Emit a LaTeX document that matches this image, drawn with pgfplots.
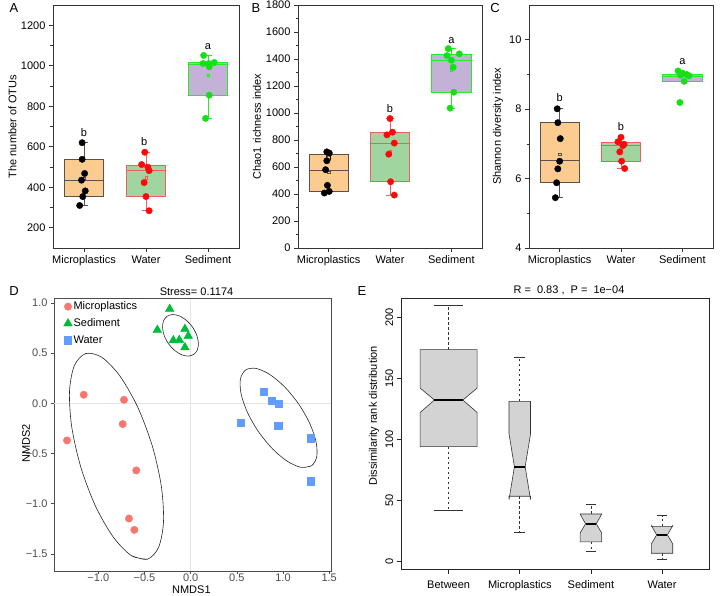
\documentclass[border=0pt]{standalone}
\usepackage{fontspec}
\setmainfont{Liberation Sans}
\usepackage{pgfplots}
\pgfplotsset{compat=1.18}
\definecolor{bor}{RGB}{252,203,143}
\definecolor{bgr}{RGB}{160,213,160}
\definecolor{bpu}{RGB}{195,177,216}
\definecolor{emic}{RGB}{90,82,72}
\definecolor{ewat}{RGB}{238,95,95}
\definecolor{esed}{RGB}{40,235,40}
\definecolor{cpwat}{RGB}{250,10,10}
\definecolor{cpsed}{RGB}{20,225,20}
\definecolor{gmic}{HTML}{F8766D}
\definecolor{gsed}{HTML}{00BA38}
\definecolor{gwat}{HTML}{619CFF}
\newcommand{\fs}{\fontsize{11}{13}\selectfont}
\pgfplotsset{
  orig/.style={scale only axis, anchor=south west, clip=false,
    xmin=0.5, xmax=3.5, xtick={1,2,3}, xticklabels={Microplastics,Water,Sediment},
    axis line style={black!80, line width=0.8pt},
    tick style={black!80, line width=0.7pt},
    tick align=outside, xtick pos=bottom, ytick pos=left,
    major tick length=4pt, minor tick length=2.5pt,
    font=\fs, tick label style={font=\fs},
    /pgf/number format/assume math mode=true,
    /pgf/number format/1000 sep={},
  },
  spmic/.style={only marks, mark=*, mark size=3.2pt, black},
  spwat/.style={only marks, mark=*, mark size=3.2pt, cpwat},
  spsed/.style={only marks, mark=*, mark size=3.2pt, cpsed},
  bmic/.style={draw=emic, fill=bor, line width=0.8pt},
  bwat/.style={draw=ewat, fill=bgr, line width=0.8pt},
  bsed/.style={draw=esed, fill=bpu, line width=0.8pt},
  lmic/.style={emic, line width=0.8pt},
  lwat/.style={ewat, line width=0.8pt},
  lsed/.style={esed, line width=0.8pt},
  mn/.style={only marks, mark=square, mark size=1.3pt, line width=0.4pt},
  rbox/.style={fill={rgb,255:red,211;green,211;blue,211}, draw=black!80, line width=0.6pt},
  rmed/.style={black, line width=2pt},
  rwhisk/.style={black!80, line width=0.6pt, dash pattern=on 2.5pt off 2.5pt},
  rcap/.style={black!80, line width=0.6pt},
  ell/.style={black!85, line width=0.6pt, smooth, forget plot},
}
\begin{document}
\begin{tikzpicture}
\useasboundingbox (0,0) rectangle (720pt,595pt);

% ---------------- A ----------------
\begin{axis}[orig, at={(53pt,347pt)}, width=186pt, height=243pt,
  ymin=100, ymax=1300, ytick={200,400,...,1200}, minor y tick num=1,
  ylabel={The number of OTUs},
  every axis y label/.style={at={(axis description cs:-0.2177,0.5)}, rotate=90, anchor=center, font=\fs}]
\addplot[lmic] coordinates {(1,538)(1,620)};
\addplot[lmic] coordinates {(1,354)(1,310)};
\addplot[lmic] coordinates {(0.94,620)(1.06,620)};
\addplot[lmic] coordinates {(0.94,310)(1.06,310)};
\addplot[bmic] coordinates {(0.68,354)(1.32,354)(1.32,538)(0.68,538)} -- cycle;
\addplot[lmic] coordinates {(0.68,436)(1.32,436)};
\addplot[lwat] coordinates {(2,509)(2,573)};
\addplot[lwat] coordinates {(2,354)(2,284)};
\addplot[lwat] coordinates {(1.94,573)(2.06,573)};
\addplot[lwat] coordinates {(1.94,284)(2.06,284)};
\addplot[bwat] coordinates {(1.68,354)(2.32,354)(2.32,509)(1.68,509)} -- cycle;
\addplot[lwat] coordinates {(1.68,482)(2.32,482)};
\addplot[lsed] coordinates {(3,1016)(3,1051)};
\addplot[lsed] coordinates {(3,854)(3,740)};
\addplot[lsed] coordinates {(2.94,1051)(3.06,1051)};
\addplot[lsed] coordinates {(2.94,740)(3.06,740)};
\addplot[bsed] coordinates {(2.68,854)(3.32,854)(3.32,1016)(2.68,1016)} -- cycle;
\addplot[lsed] coordinates {(2.68,1005)(3.32,1005)};
\addplot[mn, emic] coordinates {(1,443.9)};
\addplot[mn, ewat] coordinates {(2,446.7)};
\addplot[mn, esed] coordinates {(3,954)};
\addplot[spmic] coordinates {(0.97,620)(0.97,538)(1.01,468)(0.96,435)(1.02,382)(0.98,354)(0.93,310)};
\addplot[spwat] coordinates {(1.98,573)(1.93,512)(2.03,499)(2.05,482)(1.97,423)(2.00,354)(2.05,284)};
\addplot[spsed] coordinates {(2.93,1051)(2.92,1011)(3.01,1011)(3.10,1016)(3.02,995)(3.02,855)(2.96,740)};
\node[font=\fs] at (axis cs:1,670) {b};
\node[font=\fs] at (axis cs:1.97,625) {b};
\node[font=\fs] at (axis cs:3,1093) {a};
\end{axis}

% ---------------- B ----------------
\begin{axis}[orig, at={(298pt,347pt)}, width=184pt, height=243pt,
  ymin=0, ymax=1800, ytick={0,200,...,1800}, minor y tick num=1,
  ylabel={Chao1 richness index},
  every axis y label/.style={at={(axis description cs:-0.2228,0.5)}, rotate=90, anchor=center, font=\fs}]
\addplot[lmic] coordinates {(1,696)(1,712)};
\addplot[lmic] coordinates {(1,417)(1,407)};
\addplot[bmic] coordinates {(0.68,417)(1.32,417)(1.32,696)(0.68,696)} -- cycle;
\addplot[lmic] coordinates {(0.68,578)(1.32,578)};
\addplot[lwat] coordinates {(2,858)(2,959)};
\addplot[lwat] coordinates {(2,491)(2,392)};
\addplot[lwat] coordinates {(1.94,959)(2.06,959)};
\addplot[lwat] coordinates {(1.94,392)(2.06,392)};
\addplot[bwat] coordinates {(1.68,491)(2.32,491)(2.32,858)(1.68,858)} -- cycle;
\addplot[lwat] coordinates {(1.68,777)(2.32,777)};
\addplot[lsed] coordinates {(3,1435)(3,1477)};
\addplot[lsed] coordinates {(3,1154)(3,1036)};
\addplot[lsed] coordinates {(2.92,1477)(3.08,1477)};
\addplot[lsed] coordinates {(2.94,1036)(3.06,1036)};
\addplot[bsed] coordinates {(2.68,1154)(3.32,1154)(3.32,1435)(2.68,1435)} -- cycle;
\addplot[lsed] coordinates {(2.68,1391)(3.32,1391)};
\addplot[mn, emic] coordinates {(1,561.6)};
\addplot[mn, ewat] coordinates {(2,715.7)};
\addplot[mn, esed] coordinates {(3,1322.9)};
\addplot[spmic] coordinates {(0.97,712)(1.01,703)(0.97,646)(0.95,580)(0.98,464)(1.01,419)(0.93,407)};
\addplot[spwat] coordinates {(2.00,959)(2.04,858)(1.95,838)(2.07,777)(1.98,695)(2.01,491)(2.07,392)};
\addplot[spsed] coordinates {(2.95,1477)(2.93,1425)(3.13,1438)(3.00,1391)(3.03,1339)(3.04,1154)(2.98,1036)};
\node[font=\fs] at (axis cs:1,673) {b};
\node[font=\fs] at (axis cs:2,1036) {b};
\node[font=\fs] at (axis cs:3,1534) {a};
\end{axis}

% ---------------- C ----------------
\begin{axis}[orig, at={(529pt,347pt)}, width=184pt, height=243pt,
  ymin=4, ymax=11, ytick={4,6,8,10}, minor y tick num=1,
  ylabel={Shannon diversity index},
  every axis y label/.style={at={(axis description cs:-0.1685,0.5)}, rotate=90, anchor=center, font=\fs}]
\addplot[lmic] coordinates {(1,7.62)(1,8.02)};
\addplot[lmic] coordinates {(1,5.89)(1,5.45)};
\addplot[lmic] coordinates {(0.94,8.02)(1.06,8.02)};
\addplot[lmic] coordinates {(0.94,5.45)(1.06,5.45)};
\addplot[bmic] coordinates {(0.68,5.89)(1.32,5.89)(1.32,7.62)(0.68,7.62)} -- cycle;
\addplot[lmic] coordinates {(0.68,6.51)(1.32,6.51)};
\addplot[lwat] coordinates {(2,7.03)(2,7.19)};
\addplot[lwat] coordinates {(2,6.50)(2,6.29)};
\addplot[lwat] coordinates {(1.94,6.29)(2.06,6.29)};
\addplot[bwat] coordinates {(1.68,6.50)(2.32,6.50)(2.32,7.03)(1.68,7.03)} -- cycle;
\addplot[lwat] coordinates {(1.68,6.95)(2.32,6.95)};
\addplot[lsed] coordinates {(3,9.01)(3,9.10)};
\addplot[bsed] coordinates {(2.68,8.80)(3.32,8.80)(3.32,9.01)(2.68,9.01)} -- cycle;
\addplot[lsed] coordinates {(2.68,8.94)(3.32,8.94)};
\addplot[mn, emic] coordinates {(1,6.70)};
\addplot[mn, ewat] coordinates {(2,6.82)};
\addplot[spmic] coordinates {(0.96,8.01)(0.97,7.61)(1.01,7.15)(1.00,6.50)(0.97,6.28)(0.95,5.88)(0.93,5.45)};
\addplot[spwat] coordinates {(2.00,7.19)(1.95,7.06)(2.05,6.99)(2.03,6.95)(1.98,6.77)(2.01,6.50)(2.06,6.29)};
\addplot[spsed] coordinates {(2.93,9.10)(3.00,9.04)(3.07,9.00)(3.11,8.96)(3.03,8.80)(2.96,8.19)(2.97,8.98)};
\node[font=\fs] at (axis cs:1,8.32) {b};
\node[font=\fs] at (axis cs:2,7.51) {b};
\node[font=\fs] at (axis cs:3,9.37) {a};
\end{axis}

% ---------------- D ----------------
\begin{axis}[scale only axis, anchor=south west, at={(54pt,24pt)}, width=277pt, height=272pt,
  xmin=-1.48, xmax=1.52, ymin=-1.67, ymax=1.04,
  xtick={-1,-0.5,0,0.5,1,1.5}, xticklabels={−1.0,−0.5,0.0,0.5,1.0,1.5},
  ytick={-1.5,-1,-0.5,0,0.5,1}, yticklabels={−1.5,−1.0,−0.5,0.0,0.5,1.0},
  axis line style={black!70, line width=1pt},
  tick style={black!70, line width=0.6pt},
  tick align=outside, xtick pos=bottom, ytick pos=left, major tick length=3pt,
  font=\fs, tick label style={font=\fs, text=black!70},
  xticklabel style={yshift=1pt, inner sep=0.5pt},
  xlabel={NMDS1}, ylabel={NMDS2},
  every axis x label/.style={at={(axis description cs:0.496,-0.0695)}, anchor=center, inner sep=0pt, font=\fs},
  every axis y label/.style={at={(axis description cs:-0.101,0.47)}, rotate=90, anchor=center, font=\fs},
  legend style={at={(axis description cs:0,1)}, anchor=north west, xshift=8.5pt, yshift=-0.5pt,
     draw=none, fill=none, font=\fs, row sep=5pt, inner sep=1pt,
     nodes={inner sep=1.2pt}},
  legend cell align=left,
  legend image code/.code={\draw[#1] plot coordinates {(0pt,0pt)};},
]
\addplot[black!10, line width=0.9pt, forget plot] coordinates {(0,-1.67)(0,1.04)};
\addplot[black!10, line width=0.9pt, forget plot] coordinates {(-1.48,0)(1.52,0)};
% confidence ellipses
\addplot[ell] coordinates {(-0.4697,-1.5533)(-0.6431,-1.5162)(-0.8407,-1.3284)(-1.0326,-1.0196)(-1.1897,-0.6352)(-1.2880,-0.2346)(-1.3121,0.1206)(-1.2591,0.3777)(-1.1364,0.4964)(-0.9630,0.4594)(-0.7654,0.2716)(-0.5735,-0.0372)(-0.4163,-0.4216)(-0.3181,-0.8222)(-0.2939,-1.1775)(-0.3470,-1.4345)(-0.4697,-1.5533)(-0.6431,-1.5162)};
\addplot[ell] coordinates {(0.0354,0.4884)(-0.0250,0.4706)(-0.0985,0.4845)(-0.1736,0.5276)(-0.2393,0.5938)(-0.2853,0.6728)(-0.3045,0.7525)(-0.2945,0.8209)(-0.2562,0.8675)(-0.1958,0.8853)(-0.1223,0.8715)(-0.0472,0.8283)(0.0185,0.7621)(0.0645,0.6832)(0.0838,0.6035)(0.0737,0.5350)(0.0354,0.4884)(-0.0250,0.4706)};
\addplot[ell] coordinates {(1.3095,-0.6213)(1.1991,-0.6381)(1.0512,-0.5794)(0.8884,-0.4548)(0.7351,-0.2828)(0.6148,-0.0897)(0.5462,0.0948)(0.5392,0.2431)(0.5952,0.3322)(0.7056,0.3490)(0.8536,0.2902)(1.0163,0.1657)(1.1697,-0.0064)(1.2899,-0.1994)(1.3586,-0.3840)(1.3656,-0.5322)(1.3095,-0.6213)(1.1991,-0.6381)};
\addplot[only marks, mark=*, mark size=3.7pt, gmic] coordinates {(-1.158,0.086)(-0.722,0.036)(-0.736,-0.206)(-1.339,-0.369)(-0.589,-0.668)(-0.668,-1.147)(-0.610,-1.260)};
\addlegendentry{Microplastics}
\addplot[only marks, mark=triangle*, mark size=5pt, gsed] coordinates {(-0.227,0.94)(-0.361,0.731)(-0.062,0.741)(-0.188,0.628)(-0.123,0.631)(-0.026,0.671)(-0.062,0.558)};
\addlegendentry{Sediment}
\addplot[only marks, mark=square*, mark size=3.6pt, gwat] coordinates {(0.793,0.116)(0.877,0.030)(0.956,-0.003)(0.948,-0.223)(1.302,-0.346)(0.544,-0.193)(1.299,-0.775)};
\addlegendentry{Water}
\end{axis}

% ---------------- E ----------------
\begin{axis}[scale only axis, anchor=south west, at={(401.7pt,26pt)}, width=307.3pt, height=271pt,
  xmin=0.34, xmax=4.66, ymin=-6.6, ymax=216,
  xtick={1,2,3,4}, xticklabels={Between,Microplastics,Sediment,Water},
  ytick={0,50,100,150,200},
  yticklabel style={rotate=90, anchor=south},
  xticklabel style={yshift=-3pt},
  axis line style={black!85, line width=0.8pt},
  tick style={black!85, line width=0.6pt},
  tick align=outside, xtick pos=bottom, ytick pos=left, major tick length=5pt,
  font=\fs, tick label style={font=\fs},
  /pgf/number format/assume math mode=true,
  ylabel={Dissimilarity rank distribution},
  every axis y label/.style={at={(axis description cs:-0.090,0.565)}, rotate=90, anchor=center, font=\fs},
]
\addplot[rwhisk] coordinates {(1,173.6)(1,210)};
\addplot[rwhisk] coordinates {(1,93.9)(1,41.6)};
\addplot[rcap] coordinates {(0.8,210)(1.2,210)};
\addplot[rcap] coordinates {(0.8,41.6)(1.2,41.6)};
\addplot[rwhisk] coordinates {(2,131.1)(2,166.9)};
\addplot[rwhisk] coordinates {(2,53.2)(2,23.3)};
\addplot[rcap] coordinates {(1.925,166.9)(2.075,166.9)};
\addplot[rcap] coordinates {(1.925,23.3)(2.075,23.3)};
\addplot[rwhisk] coordinates {(3,38.6)(3,46.6)};
\addplot[rwhisk] coordinates {(3,15.7)(3,7.7)};
\addplot[rcap] coordinates {(2.925,46.6)(3.075,46.6)};
\addplot[rcap] coordinates {(2.925,7.7)(3.075,7.7)};
\addplot[rwhisk] coordinates {(4,28.4)(4,37.2)};
\addplot[rwhisk] coordinates {(4,6.3)(4,1.7)};
\addplot[rcap] coordinates {(3.925,37.2)(4.075,37.2)};
\addplot[rcap] coordinates {(3.925,1.7)(4.075,1.7)};
\addplot[rbox] coordinates {(0.6,93.9)(1.4,93.9)(1.4,122)(1.2,132.2)(1.4,142)(1.4,173.6)(0.6,173.6)(0.6,142)(0.8,132.2)(0.6,122)} -- cycle;
\addplot[rbox] coordinates {(1.849,53.2)(2.151,53.2)(2.151,50.5)(2.0755,77.4)(2.151,104.3)(2.151,131.1)(1.849,131.1)(1.849,104.3)(1.9245,77.4)(1.849,50.5)} -- cycle;
\addplot[rbox] coordinates {(2.849,15.7)(3.151,15.7)(3.151,23.0)(3.0755,30.6)(3.151,38.4)(3.151,38.6)(2.849,38.6)(2.849,38.4)(2.9245,30.6)(2.849,23.0)} -- cycle;
\addplot[rbox] coordinates {(3.849,6.3)(4.151,6.3)(4.151,13.9)(4.0755,21.5)(4.151,29.1)(4.151,28.4)(3.849,28.4)(3.849,29.1)(3.9245,21.5)(3.849,13.9)} -- cycle;
\addplot[rmed] coordinates {(0.8,132.2)(1.2,132.2)};
\addplot[rmed] coordinates {(1.9245,77.4)(2.0755,77.4)};
\addplot[rmed] coordinates {(2.9245,30.6)(3.0755,30.6)};
\addplot[rmed] coordinates {(3.9245,21.5)(4.0755,21.5)};
\end{axis}

% ---------------- labels ----------------
\node[font=\fontsize{13}{15}\selectfont] at (14pt,586.5pt) {A};
\node[font=\fontsize{13}{15}\selectfont] at (256pt,586.5pt) {B};
\node[font=\fontsize{13}{15}\selectfont] at (495pt,586.5pt) {C};
\node[font=\fontsize{13}{15}\selectfont] at (14pt,303.5pt) {D};
\node[font=\fontsize{13}{15}\selectfont] at (362pt,303.5pt) {E};
\node[font=\fs] at (196.5pt,303.5pt) {Stress= 0.1174};
\node[font=\fs] at (569pt,304.5pt) {R =\hspace{0.55em}0.83 ,\hspace{0.55em}P =\hspace{0.55em}1e−04};
\end{tikzpicture}
\end{document}
